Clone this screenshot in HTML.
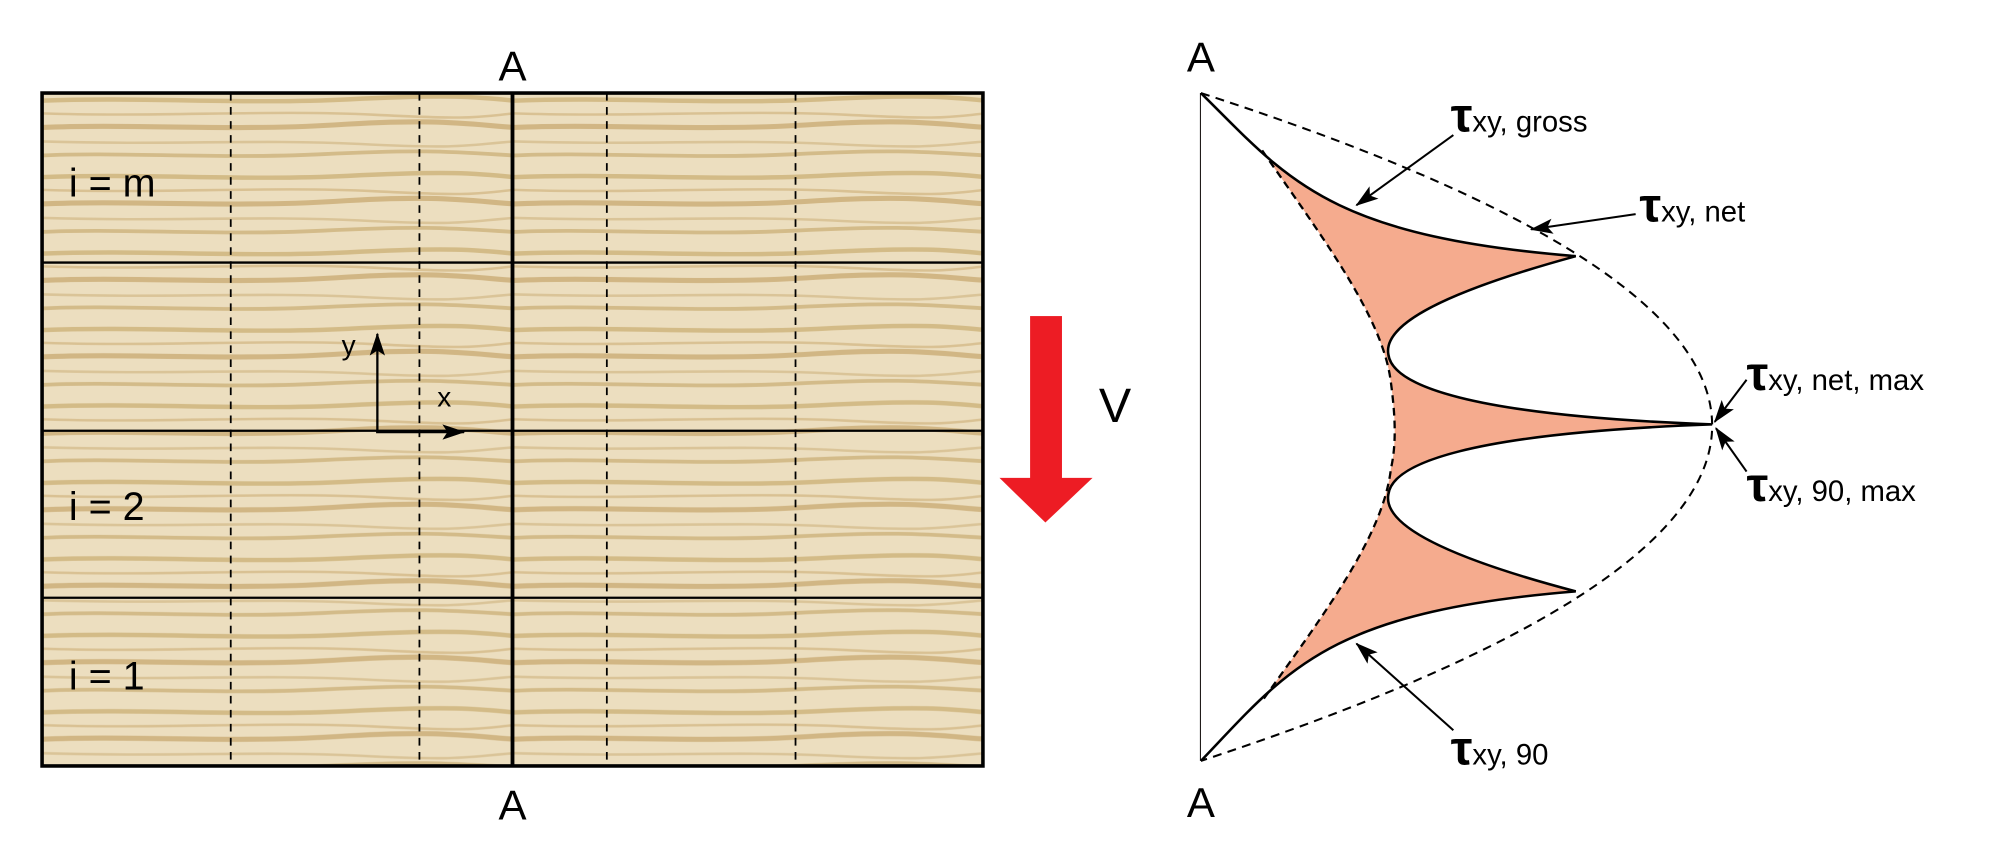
<!DOCTYPE html>
<html><head><meta charset="utf-8"><style>
html,body{margin:0;padding:0;background:#fff;}
svg{display:block;}
text{font-family:"Liberation Sans","DejaVu Sans",sans-serif;fill:#000;}
</style></head><body>
<svg width="1999" height="859" viewBox="0 0 1568 674" preserveAspectRatio="none" xmlns="http://www.w3.org/2000/svg">
<defs>
<pattern id="wood" x="33" y="73" width="370" height="60" patternUnits="userSpaceOnUse">
<rect width="370" height="60" fill="#ECDEBF"/>
<path d="M0,6 C80,3 160,9 240,5 S340,3 370,6" stroke="#CBAE74" stroke-width="3.5" fill="none" opacity="0.75"/>
<path d="M0,16 C90,19 180,13 260,17 S340,19 370,16" stroke="#D4BA88" stroke-width="2" fill="none" opacity="0.8"/>
<path d="M0,27 C70,24 150,30 230,25 S330,24 370,27" stroke="#C6A66B" stroke-width="4" fill="none" opacity="0.7"/>
<path d="M0,38 C100,41 170,36 250,40 S330,41 370,38" stroke="#D6BE8E" stroke-width="2" fill="none" opacity="0.8"/>
<path d="M0,49 C60,46 140,52 220,48 S320,46 370,49" stroke="#CBAE76" stroke-width="3" fill="none" opacity="0.75"/>
</pattern>
<marker id="ah" viewBox="0 0 18 12" refX="17" refY="6" markerWidth="18" markerHeight="12" markerUnits="userSpaceOnUse" orient="auto">
<path d="M0,0 L18,6 L0,12 L4,6 Z" fill="#000"/>
</marker>
</defs>

<rect x="33" y="73" width="738" height="528" fill="url(#wood)"/>
<g stroke="#000" stroke-width="1.4" stroke-dasharray="6,5">
<line x1="181" y1="73" x2="181" y2="601"/>
<line x1="329" y1="73" x2="329" y2="601"/>
<line x1="476" y1="73" x2="476" y2="601"/>
<line x1="624" y1="73" x2="624" y2="601"/>
</g>
<g stroke="#000" stroke-width="1.8">
<line x1="33" y1="206" x2="771" y2="206"/>
<line x1="33" y1="338" x2="771" y2="338"/>
<line x1="33" y1="469" x2="771" y2="469"/>
</g>
<line x1="402" y1="73" x2="402" y2="601" stroke="#000" stroke-width="3"/>
<rect x="33" y="73" width="738" height="528" fill="none" stroke="#000" stroke-width="2.8"/>
<text x="402" y="63" font-size="33" text-anchor="middle">A</text>
<text x="402" y="643" font-size="33" text-anchor="middle">A</text>
<text x="54" y="154" font-size="31">i = m</text>
<text x="54" y="408" font-size="31">i = 2</text>
<text x="54" y="541" font-size="31">i = 1</text>
<line x1="296" y1="339" x2="296" y2="262" stroke="#000" stroke-width="1.8" marker-end="url(#ah)"/>
<line x1="295" y1="339" x2="364" y2="339" stroke="#000" stroke-width="1.8" marker-end="url(#ah)"/>
<text x="268" y="278" font-size="22">y</text>
<text x="343" y="319" font-size="22">x</text>

<rect x="808" y="248" width="25" height="128" fill="#ED1C24"/>
<polygon points="784,375 857,375 820,410" fill="#ED1C24"/>
<text x="862" y="331" font-size="38">V</text>

<line x1="942" y1="73" x2="942" y2="597" stroke="#000" stroke-width="1.6"/>
<text x="942" y="56" font-size="33" text-anchor="middle">A</text>
<text x="942" y="641" font-size="33" text-anchor="middle">A</text>

<path d="M942,73 C1010,140 1040,185 1236,201 C1130,230 1085,255 1089,278 C1092,302 1150,326 1343,333 C1150,340 1092,364 1089,388 C1085,411 1130,436 1236,464 C1040,480 1010,526 942,597 Z" fill="#F5AB8E" stroke="none"/>
<path d="M942,73 L990,118 C1040,190 1085,250 1091,300 C1095,330 1095,350 1091,368 C1085,420 1040,480 990,550 L942,597 Z" fill="#fff" stroke="none"/>
<path d="M990,118 C1040,190 1085,250 1091,300 C1095,330 1095,350 1091,368 C1085,420 1040,480 990,550" fill="none" stroke="#000" stroke-width="1.8" stroke-dasharray="6,4"/>
<path d="M942,73 C1010,140 1040,185 1236,201 C1130,230 1085,255 1089,278 C1092,302 1150,326 1343,333 C1150,340 1092,364 1089,388 C1085,411 1130,436 1236,464 C1040,480 1010,526 942,597" fill="none" stroke="#000" stroke-width="2"/>
<path d="M942,73 Q1744,333 942,597" fill="none" stroke="#000" stroke-width="1.6" stroke-dasharray="7,5"/>

<g stroke="#000" stroke-width="1.6">
<line x1="1140" y1="106" x2="1064" y2="161" marker-end="url(#ah)"/>
<line x1="1283" y1="168" x2="1201" y2="180" marker-end="url(#ah)"/>
<line x1="1370" y1="298" x2="1345" y2="331" marker-end="url(#ah)"/>
<line x1="1370" y1="370" x2="1346" y2="336" marker-end="url(#ah)"/>
<line x1="1140" y1="573" x2="1064" y2="505" marker-end="url(#ah)"/>
</g>
<text x="1138" y="103" font-size="38" font-weight="bold">τ<tspan font-size="23" font-weight="normal">xy, gross</tspan></text>
<text x="1286" y="174" font-size="38" font-weight="bold">τ<tspan font-size="23" font-weight="normal">xy, net</tspan></text>
<text x="1370" y="306" font-size="38" font-weight="bold">τ<tspan font-size="23" font-weight="normal">xy, net, max</tspan></text>
<text x="1370" y="393" font-size="38" font-weight="bold">τ<tspan font-size="23" font-weight="normal">xy, 90, max</tspan></text>
<text x="1138" y="600" font-size="38" font-weight="bold">τ<tspan font-size="23" font-weight="normal">xy, 90</tspan></text>
</svg>
</body></html>
